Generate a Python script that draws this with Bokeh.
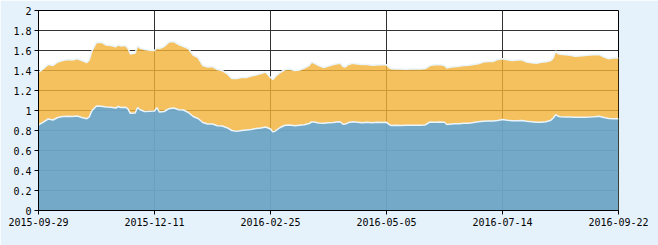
from bokeh.plotting import figure
from bokeh.models import Range1d, FixedTicker, CustomJSTickFormatter
from bokeh.embed import file_html
from bokeh.resources import INLINE

# trading-day index of each sample
day_idx = [0, 2, 4, 6, 8, 10, 12, 14, 16, 18, 20, 21, 22, 24, 26, 28, 30, 32, 33, 34,
           36, 37, 38, 40, 41, 42, 44, 46, 48, 49, 50, 52, 54, 56, 58, 60, 62, 64, 66, 68,
           70, 72, 74, 76, 78, 80, 82, 84, 86, 88, 90, 92, 94, 96, 97, 98, 100, 102, 104, 106,
           108, 110, 112, 113, 114, 116, 118, 120, 122, 124, 125, 126, 127, 128, 130, 132, 134, 136, 138, 140,
           142, 144, 145, 146, 148, 150, 152, 154, 156, 158, 160, 162, 164, 166, 168, 169, 170, 172, 174, 176,
           178, 180, 182, 184, 186, 188, 190, 192, 194, 196, 198, 200, 202, 204, 206, 208, 210, 212, 213, 214,
           215, 216, 218, 220, 222, 224, 226, 228, 230, 232, 234, 236, 238, 240]

# lower (blue) series
blue_vals = [0.857, 0.883, 0.915, 0.905, 0.93, 0.94, 0.943, 0.94, 0.945, 0.93, 0.918, 0.935, 0.995, 1.045, 1.043, 1.036, 1.033, 1.025, 1.04, 1.03,
             1.033, 1.017, 0.972, 0.975, 1.03, 1.008, 0.99, 0.993, 0.995, 1.028, 0.985, 0.99, 1.018, 1.025, 1.008, 1.005, 0.98, 0.94, 0.92, 0.88,
             0.865, 0.865, 0.848, 0.845, 0.828, 0.80, 0.792, 0.80, 0.805, 0.81, 0.82, 0.825, 0.835, 0.815, 0.786, 0.795, 0.83, 0.853, 0.855, 0.848,
             0.853, 0.857, 0.87, 0.885, 0.885, 0.875, 0.872, 0.877, 0.88, 0.887, 0.885, 0.862, 0.865, 0.877, 0.888, 0.883, 0.877, 0.882, 0.877, 0.882,
             0.88, 0.882, 0.862, 0.85, 0.853, 0.85, 0.853, 0.853, 0.852, 0.853, 0.856, 0.885, 0.883, 0.885, 0.882, 0.86, 0.863, 0.867, 0.868, 0.872,
             0.872, 0.88, 0.887, 0.892, 0.895, 0.895, 0.90, 0.91, 0.902, 0.898, 0.898, 0.90, 0.892, 0.887, 0.882, 0.883, 0.887, 0.902, 0.925, 0.958,
             0.943, 0.938, 0.935, 0.935, 0.933, 0.933, 0.933, 0.934, 0.937, 0.943, 0.93, 0.92, 0.918, 0.918]

# stacked total (top of orange)
total_vals = [1.383, 1.417, 1.46, 1.45, 1.485, 1.50, 1.51, 1.505, 1.517, 1.50, 1.48, 1.505, 1.59, 1.68, 1.683, 1.655, 1.65, 1.638, 1.657, 1.645,
              1.65, 1.623, 1.565, 1.575, 1.648, 1.625, 1.61, 1.603, 1.60, 1.625, 1.62, 1.64, 1.685, 1.69, 1.66, 1.64, 1.62, 1.555, 1.53, 1.45,
              1.435, 1.44, 1.41, 1.40, 1.37, 1.32, 1.32, 1.33, 1.33, 1.345, 1.355, 1.37, 1.385, 1.33, 1.31, 1.34, 1.38, 1.41, 1.415, 1.40,
              1.405, 1.425, 1.45, 1.485, 1.475, 1.45, 1.43, 1.445, 1.46, 1.47, 1.473, 1.44, 1.435, 1.457, 1.472, 1.465, 1.46, 1.46, 1.452, 1.455,
              1.458, 1.457, 1.43, 1.418, 1.415, 1.415, 1.413, 1.416, 1.415, 1.415, 1.42, 1.45, 1.457, 1.46, 1.45, 1.425, 1.432, 1.437, 1.443, 1.45,
              1.452, 1.46, 1.467, 1.485, 1.49, 1.49, 1.51, 1.517, 1.507, 1.50, 1.505, 1.507, 1.485, 1.477, 1.473, 1.482, 1.487, 1.50, 1.525, 1.595,
              1.567, 1.562, 1.557, 1.552, 1.543, 1.545, 1.55, 1.555, 1.558, 1.56, 1.535, 1.517, 1.527, 1.525]

x_tick_labels = ["2015-09-29", "2015-12-11", "2016-02-25", "2016-05-05", "2016-07-14", "2016-09-22"]
x_tick_days = [0, 48, 96, 144, 192, 240]
y_ticks = [0, 0.2, 0.4, 0.6, 0.8, 1.0, 1.2, 1.4, 1.6, 1.8, 2.0]

p = figure(frame_width=580, frame_height=200, output_backend="svg", toolbar_location=None,
           x_range=Range1d(0, 240), y_range=Range1d(0, 2),
           min_border_left=38, min_border_right=40, min_border_top=10, min_border_bottom=35)
p.background_fill_color = "white"
p.border_fill_color = "#E6F2FB"
p.outline_line_color = "black"
p.outline_line_width = 1

p.varea(x=day_idx, y1=0, y2=total_vals, fill_color="#F2B036", fill_alpha=0.8)
p.varea(x=day_idx, y1=0, y2=blue_vals, fill_color="#54A3E1", fill_alpha=0.8)
p.line(day_idx, total_vals, line_color="#EAF5FC", line_width=1.5)
p.line(day_idx, blue_vals, line_color="#EAF5FC", line_width=1.5)

font = "DejaVu Sans Mono"
p.xaxis.ticker = FixedTicker(ticks=x_tick_days)
p.xaxis.major_label_overrides = {d: lab for d, lab in zip(x_tick_days, x_tick_labels)}
p.yaxis.ticker = FixedTicker(ticks=y_ticks)
p.yaxis.formatter = CustomJSTickFormatter(code="return Number(tick.toFixed(1)).toString();")
for ax in (p.xaxis[0], p.yaxis[0]):
    ax.axis_line_color = "black"
    ax.major_tick_line_color = "black"
    ax.major_tick_out = 4
    ax.major_tick_in = 0
    ax.minor_tick_line_color = None
    ax.major_label_text_font = font
    ax.major_label_text_font_size = "10px"
    ax.major_label_text_color = "black"
    ax.major_label_standoff = 3

p.xgrid.ticker = FixedTicker(ticks=x_tick_days)
p.ygrid.ticker = FixedTicker(ticks=y_ticks)
for g in (p.xgrid[0], p.ygrid[0]):
    g.grid_line_color = "#333333"
    g.grid_line_width = 1

open("out.html", "w").write(file_html(p, INLINE))
